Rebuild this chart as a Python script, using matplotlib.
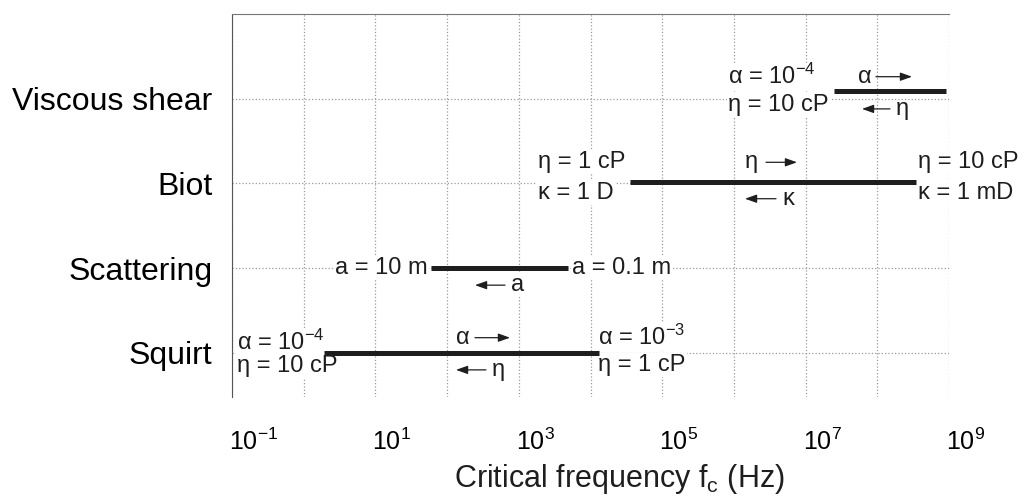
import matplotlib

matplotlib.use("Agg")
import matplotlib.pyplot as plt
import matplotlib.transforms as mtransforms
import numpy as np

# Rango de frecuencia critica (Hz) de cada mecanismo
mecanismos = ["Squirt", "Scattering", "Biot", "Viscous shear"]
f_min = [1.9, 60.0, 3.5e4, 2.5e7]
f_max = [1.3e4, 4.9e3, 3.5e8, 9.0e8]
ticks_x = [1e-1, 1e1, 1e3, 1e5, 1e7, 1e9]
etiquetas_x = ["$10^{-1}$", "$10^{1}$", "$10^{3}$", "$10^{5}$", "$10^{7}$", "$10^{9}$"]

plt.rcParams["font.family"] = ["Liberation Sans", "DejaVu Sans"]
plt.rcParams["mathtext.fontset"] = "custom"
plt.rcParams["mathtext.rm"] = "Liberation Sans"
plt.rcParams["mathtext.it"] = "Liberation Sans:italic"
plt.rcParams["mathtext.default"] = "regular"

TINTA = "#1e1e1e"
FS = 17


def px(x_pix):
    """Convierte una posicion horizontal en pixeles de la figura a Hz."""
    return 10 ** ((x_pix - 232) / 71.7 - 1)


def texto(ax, x, y, s, ha="left", fondo=True):
    caja = dict(boxstyle="square,pad=0.05", fc="white", ec="none") if fondo else None
    ax.text(x, y, s, ha=ha, va="center", fontsize=FS, color=TINTA, bbox=caja, zorder=4)


def flecha(ax, x1, x2, y):
    ax.annotate("", xy=(x2, y), xytext=(x1, y),
                arrowprops=dict(arrowstyle="-|>,head_length=0.7,head_width=0.25",
                                lw=0.9, color=TINTA, shrinkA=0, shrinkB=0),
                zorder=4)


fig = plt.figure(figsize=(10.28, 5.01), dpi=100)
ax = fig.add_axes([232 / 1028, 1 - 397 / 501, 717 / 1028, 383 / 501])

filas = np.arange(1, len(mecanismos) + 1)
# la barra de viscous shear va algo por encima de su linea de rejilla
desfase = [0.0, 0.0, 0.02, 0.09]
for fila, d, lo, hi in zip(filas, desfase, f_min, f_max):
    ax.plot([lo, hi], [fila + d, fila + d], color=TINTA, lw=3.6,
            solid_capstyle="butt", zorder=5)

ax.set_xscale("log")
ax.set_xlim(1e-1, 1e9)
ax.set_ylim(0.48, 5.0)

ax.set_xticks(ticks_x)
ax.set_xticklabels(etiquetas_x, fontsize=18, ha="left")
ax.xaxis.set_minor_locator(matplotlib.ticker.LogLocator(base=10, subs=[1.0], numticks=20))
ax.xaxis.set_minor_formatter(matplotlib.ticker.NullFormatter())
ax.tick_params(axis="x", which="both", length=0, pad=23)
desplaza = mtransforms.ScaledTranslation(-3 / 100, 0, fig.dpi_scale_trans)
for lbl in ax.get_xticklabels():
    lbl.set_transform(lbl.get_transform() + desplaza)

ax.set_yticks(filas)
ax.set_yticklabels(mecanismos, fontsize=23)
ax.tick_params(axis="y", length=0, pad=14)

ax.grid(True, which="both", axis="x", color="#9a9a9a", ls=":", lw=0.9)
ax.grid(True, axis="y", color="#9a9a9a", ls=":", lw=0.9)
ax.set_axisbelow(True)

for lado in ["bottom", "right"]:
    ax.spines[lado].set_visible(False)
ax.spines["left"].set_color("#555555")
ax.spines["top"].set_color("#777777")

# titulo del eje x colocado a mano, algo desplazado a la derecha como en el original
fig.text(619 / 1028, 1 - 479 / 501, "Critical frequency f$_c$ (Hz)",
         fontsize=22, color=TINTA, ha="center", va="center")

# Viscous shear
texto(ax, px(728), 4.26, r"α = $10^{-4}$")
texto(ax, px(728), 3.93, "η = 10 cP")
texto(ax, px(858), 4.26, "α")
flecha(ax, px(876), px(912), 4.26)
flecha(ax, px(890), px(862), 3.88)
texto(ax, px(896), 3.88, "η", fondo=False)

# Biot
texto(ax, px(538), 3.25, "η = 1 cP")
texto(ax, px(538), 2.89, "κ = 1 D")
texto(ax, px(745), 3.25, "η")
flecha(ax, px(766), px(797), 3.25)
flecha(ax, px(776), px(745), 2.82)
texto(ax, px(782), 2.82, "κ")
texto(ax, px(918), 3.25, "η = 10 cP")
texto(ax, px(918), 2.89, "κ = 1 mD")

# Scattering
texto(ax, px(428), 2.0, "a = 10 m", ha="right")
texto(ax, px(572), 2.0, "a = 0.1 m")
flecha(ax, px(505), px(475), 1.8)
texto(ax, px(511), 1.8, "a")

# Squirt
texto(ax, px(237), 1.12, r"α = $10^{-4}$")
texto(ax, px(237), 0.84, "η = 10 cP")
texto(ax, px(456), 1.18, "α")
flecha(ax, px(475), px(510), 1.18)
flecha(ax, px(486), px(456), 0.8)
texto(ax, px(492), 0.8, "η")
texto(ax, px(598), 1.19, r"α = $10^{-3}$")
texto(ax, px(598), 0.86, "η = 1 cP")

fig.savefig("out.png", dpi=100)
plt.close(fig)
